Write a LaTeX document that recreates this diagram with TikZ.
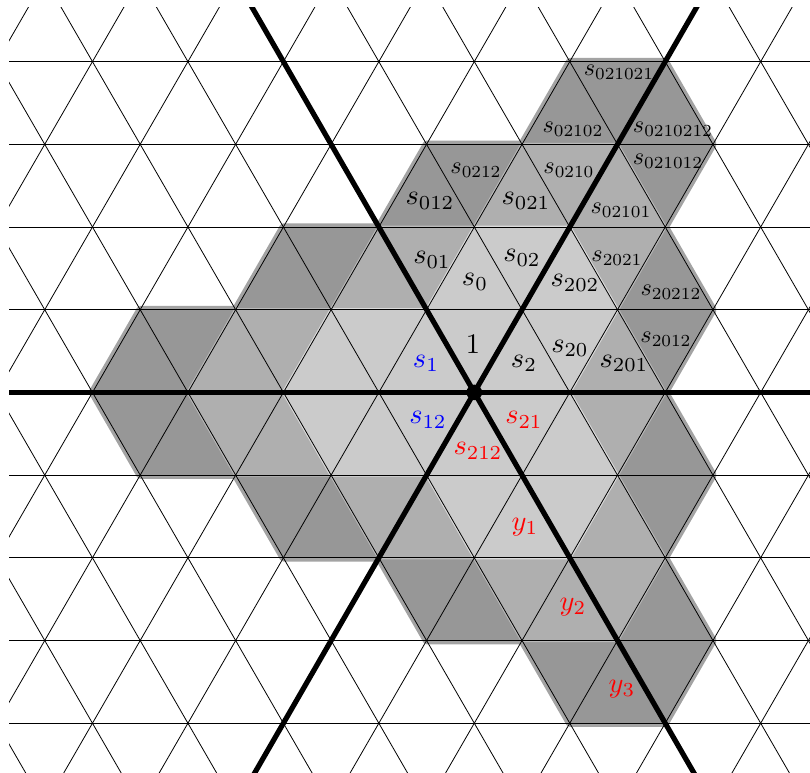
\documentclass[tikz,border=0pt]{standalone}
\definecolor{dk}{gray}{0.592}
\definecolor{dkh}{gray}{0.64}
\definecolor{md}{gray}{0.686}
\definecolor{mdh}{gray}{0.73}
\definecolor{lt}{gray}{0.796}
\definecolor{lth}{gray}{0.86}
\tikzset{
  lat/.style={shift={(474.3,392.4)},x=47.73pt,y=82.7pt},
  thin line/.style={line width=0.8pt,black},
  axis/.style={line width=5.2pt,black},
  big/.style={scale=2.84,inner sep=0pt},
  small/.style={scale=2.42,inner sep=0pt},
  bl/.style={big,text=blue},
  rd/.style={big,text=red}
}
\newcommand{\outerpoly}{(2,4)--(4,4)--(5,3)--(4,2)--(5,1)--(4,0)--(5,-1)--(4,-2)--(5,-3)--(4,-4)--(2,-4)--(1,-3)--(-1,-3)--(-2,-2)--(-4,-2)--(-5,-1)--(-7,-1)--(-8,0)--(-7,1)--(-5,1)--(-4,2)--(-2,2)--(-1,3)--(1,3)--cycle}
\newcommand{\midpoly}{(1,3)--(3,3)--(4,2)--(3,1)--(4,0)--(3,-1)--(4,-2)--(3,-3)--(1,-3)--(0,-2)--(-2,-2)--(-3,-1)--(-5,-1)--(-6,0)--(-5,1)--(-3,1)--(-2,2)--(0,2)--cycle}
\newcommand{\lightpoly}{(0,2)--(2,2)--(3,1)--(2,0)--(3,-1)--(2,-2)--(0,-2)--(-1,-1)--(-3,-1)--(-4,0)--(-3,1)--(-1,1)--cycle}
\begin{document}
\begin{tikzpicture}[x=1pt,y=-1pt]
\useasboundingbox (0,0) rectangle (810,772);
\begin{scope}
\clip (9,7) rectangle (810,772);
\begin{scope}[lat]
  \draw[dkh,line width=7.5pt,line join=round] \outerpoly;
  \fill[dk] \outerpoly;
  \draw[mdh,line width=3pt,line join=round] \midpoly;
  \fill[md] \midpoly;
  \draw[lth,line width=3pt,line join=round] \lightpoly;
  \fill[lt] \lightpoly;
  \foreach \r in {-4,...,4} \draw[thin line] (-10,\r) -- (8,\r);
  \foreach \a in {-26,-24,...,26} {
    \draw[thin line] (\a-6,-6) -- (\a+6,6);
    \draw[thin line] (\a+6,-6) -- (\a-6,6);
  }
  \draw[axis] (-10,0) -- (8,0);
  \draw[axis] (-6,-6) -- (6,6);
  \draw[axis] (6,-6) -- (-6,6);
\end{scope}
\end{scope}
\fill[black] (474.3,392.4) circle[radius=7.8pt];
\node[big] (e) at (473,344) {$1$};
\node[bl] (s1) at (426,363.5) {$s_{1}$};
\node[big] (s2) at (524,363.5) {$s_{2}$};
\node[big] (s0) at (475,282) {$s_{0}$};
\node[big] (s01) at (432,260) {$s_{01}$};
\node[big] (s02) at (522,258) {$s_{02}$};
\node[big] (s012) at (430,201) {$s_{012}$};
\node[big] (s021) at (526,201) {$s_{021}$};
\node[big] (s202) at (575,283) {$s_{202}$};
\node[big] (s20) at (570,348.5) {$s_{20}$};
\node[big] (s201) at (624,363.5) {$s_{201}$};
\node[bl] (s12) at (428,420) {$s_{12}$};
\node[rd] (s21) at (524,420) {$s_{21}$};
\node[rd] (s212) at (478,451) {$s_{212}$};
\node[rd] (y1) at (525,527) {$y_{1}$};
\node[rd] (y2) at (573,607) {$y_{2}$};
\node[rd] (y3) at (622,689) {$y_{3}$};
\node[small] (s0212) at (476,170) {$s_{0212}$};
\node[small] (s0210) at (569,170) {$s_{0210}$};
\node[small] (s02102) at (573,129) {$s_{02102}$};
\node[small] (s021021) at (619,72) {$s_{021021}$};
\node[small] (s0210212) at (673,129) {$s_{0210212}$};
\node[small] (s021012) at (668,161) {$s_{021012}$};
\node[small] (s02101) at (621,210) {$s_{02101}$};
\node[small] (s2021) at (617,258) {$s_{2021}$};
\node[small] (s20212) at (671,292) {$s_{20212}$};
\node[small] (s2012) at (666,339) {$s_{2012}$};
\end{tikzpicture}
\end{document}
